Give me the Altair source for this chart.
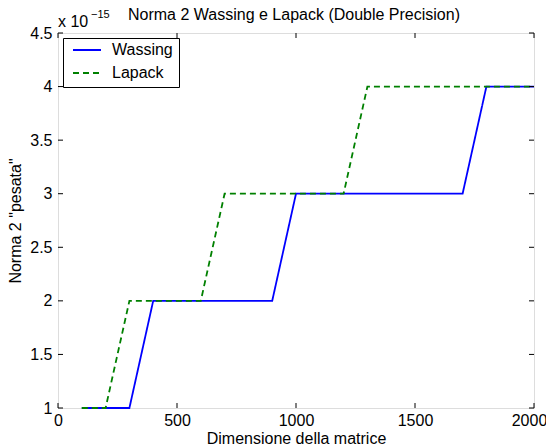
import altair as alt
import pandas as pd

sizes = [100, 200, 300, 400, 500, 600, 700, 800, 900, 1000,
         1100, 1200, 1300, 1400, 1500, 1600, 1700, 1800, 1900, 2000]
wassing = [1, 1, 1, 2, 2, 2, 2, 2, 2, 3, 3, 3, 3, 3, 3, 3, 3, 4, 4, 4]
lapack = [1, 1, 2, 2, 2, 2, 3, 3, 3, 3, 3, 3, 4, 4, 4, 4, 4, 4, 4, 4]
series_names = ["Wassing", "Lapack"]
x_ticks = [0, 500, 1000, 1500, 2000]
y_ticks = [1, 1.5, 2, 2.5, 3, 3.5, 4, 4.5]
title_text = "Norma 2 Wassing e Lapack (Double Precision)"

W, H = 476, 375
FONT = "Liberation Sans"
FS = 16

df = pd.DataFrame({
    "n": sizes * 2,
    "v": wassing + lapack,
    "s": [series_names[0]] * len(sizes) + [series_names[1]] * len(sizes),
})

xs = alt.Scale(domain=[0, 2000], nice=False, zero=False)
ys = alt.Scale(domain=[1, 4.5], nice=False, zero=False)

lines = alt.Chart(df).mark_line(strokeWidth=1.8).encode(
    x=alt.X("n:Q", scale=xs,
            axis=alt.Axis(values=x_ticks, format="d", title="Dimensione della matrice",
                          grid=False, ticks=False, domain=False,
                          labelFontSize=FS, titleFontSize=FS, labelFont=FONT,
                          titleFont=FONT, labelColor="black", titleColor="black",
                          titleFontWeight="normal", labelPadding=4, titlePadding=2,
                          labelFlush=False,
                          labelOffset=alt.condition("datum.value == 2000", alt.value(-5), alt.value(0)))),
    y=alt.Y("v:Q", scale=ys,
            axis=alt.Axis(values=y_ticks, format="~g", title='Norma 2 "pesata"',
                          grid=False, ticks=False, domain=False,
                          labelFontSize=FS, titleFontSize=FS, labelFont=FONT,
                          titleFont=FONT, labelColor="black", titleColor="black",
                          titleFontWeight="normal", labelPadding=6, titlePadding=6,
                          labelFlush=False)),
    color=alt.Color("s:N", scale=alt.Scale(domain=series_names, range=["#0000ff", "#008000"]),
                    legend=alt.Legend(title=None, orient="none", legendX=5, legendY=5,
                                      strokeColor="black", fillColor="white", padding=6,
                                      symbolType="stroke", symbolSize=784, symbolOffset=3,
                                      symbolStrokeWidth=2, labelFontSize=FS, labelFont=FONT,
                                      labelColor="black", clipHeight=12, rowPadding=7,
                                      labelOffset=10, cornerRadius=0,
                                      labelExpr="datum.label + '     '")),
    strokeDash=alt.StrokeDash("s:N", scale=alt.Scale(domain=series_names, range=[[1, 0], [6, 4]]),
                              legend=None),
)

xt = pd.DataFrame({"t": x_ticks})
yt = pd.DataFrame({"t": y_ticks})
tick_bottom = alt.Chart(xt).mark_rule(color="black", strokeWidth=1).encode(
    x=alt.X("t:Q", scale=xs), y=alt.value(H), y2=alt.value(H - 5))
tick_top = alt.Chart(xt).mark_rule(color="black", strokeWidth=1).encode(
    x=alt.X("t:Q", scale=xs), y=alt.value(0), y2=alt.value(5))
tick_left = alt.Chart(yt).mark_rule(color="black", strokeWidth=1).encode(
    y=alt.Y("t:Q", scale=ys), x=alt.value(0), x2=alt.value(5))
tick_right = alt.Chart(yt).mark_rule(color="black", strokeWidth=1).encode(
    y=alt.Y("t:Q", scale=ys), x=alt.value(W), x2=alt.value(W - 5))

one = pd.DataFrame({"a": [0]})
exp_base = alt.Chart(one).mark_text(
    text="x 10", fontSize=FS, font=FONT, align="left", baseline="alphabetic", color="black"
).encode(x=alt.value(0), y=alt.value(-6))
exp_pow = alt.Chart(one).mark_text(
    text="\u221215", fontSize=11, font=FONT, align="left", baseline="alphabetic", color="black"
).encode(x=alt.value(33), y=alt.value(-15))
title_mark = alt.Chart(one).mark_text(
    text=title_text, fontSize=FS, font=FONT, align="center", baseline="alphabetic", color="black"
).encode(x=alt.value(W / 2 - 2), y=alt.value(-13))

chart = alt.layer(lines, tick_bottom, tick_top, tick_left, tick_right,
                  exp_base, exp_pow, title_mark).properties(
    width=W, height=H,
    autosize=alt.AutoSizeParams(type="none"),
    padding={"left": 50, "top": 25, "right": 12, "bottom": 39},
).configure_view(stroke="black", strokeWidth=1).configure(background="white")

chart.save("out.html", embed_options={"renderer": "svg", "actions": False})
